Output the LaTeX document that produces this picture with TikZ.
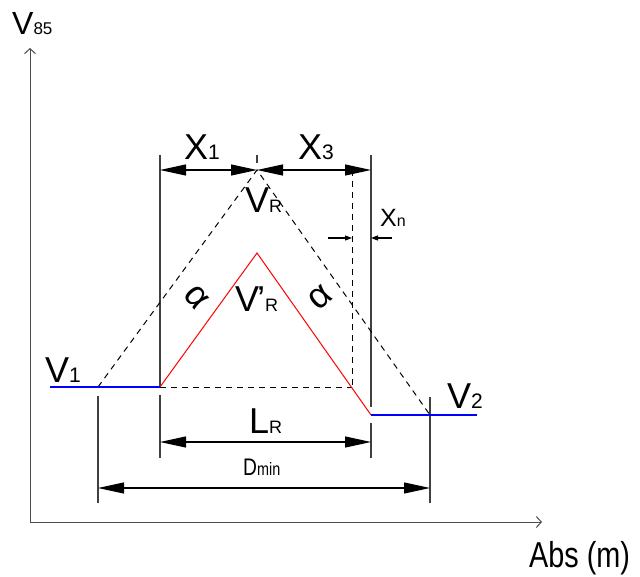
\documentclass[tikz,border=0pt]{standalone}
\usepackage{fontspec}
\setmainfont{Liberation Sans}
\newfontfamily\narrowfont{Liberation Sans}[FakeStretch=0.8]
\usetikzlibrary{arrows.meta}
\newcommand\lowidx[2][21]{{\fontsize{#1}{#1}\selectfont #2}}

\begin{document}
\begin{tikzpicture}[x=1pt, y=-1pt,
    lbl/.style={anchor=base west, inner sep=0pt, font=\fontsize{36}{36}\selectfont},
    axis/.style={draw=black!70, line width=1pt, -{Straight Barb[length=5pt,width=11pt]}},
    ext/.style={draw=black!75, line width=1.1pt},
    dim/.style={{Triangle[length=26pt,width=11pt]}-{Triangle[length=26pt,width=11pt]}, line width=1.1pt},
    small/.style={-{Triangle[length=7pt,width=5pt]}, line width=1.1pt},
    guide/.style={line width=1pt, dash pattern=on 6pt off 5pt},
    ramp/.style={red, line width=1pt},
    flat/.style={blue, line width=1.3pt}
]
\useasboundingbox (0,0) rectangle (640,577);

% key points
\coordinate (O) at (30,522);
\coordinate (Ytop) at (30,48);
\coordinate (Xend) at (542,522);
\coordinate (V1s) at (50,387);
\coordinate (P1) at (98,387);
\coordinate (P2) at (160,387);
\coordinate (Apex) at (257,170);
\coordinate (RApex) at (257,253);
\coordinate (P3) at (352,387);
\coordinate (P4) at (371,415);
\coordinate (P5) at (430,415);
\coordinate (V2e) at (477,415);

% axes
\draw[axis] (O) -- (Ytop);
\draw[axis] (O) -- (Xend);
\node[lbl, font=\fontsize{32}{32}\selectfont] (V85) at (12,35) {V\lowidx[17]{85}};
\node[lbl, font=\fontsize{36}{36}\selectfont\narrowfont] (Abs) at (529,567) {Abs (m)};

% extension lines
\draw[ext] (160,155) -- (P2);
\draw[ext] (160,395) -- (160,458);
\draw[ext] (371,155) -- (371,407);
\draw[ext] (371,423) -- (371,458);
\draw[ext] (98,396) -- (98,503);
\draw[ext] (430,397) -- (430,503);
\draw[ext] (257,155) -- (257,163);

% speed profiles
\draw[guide] (P1) -- (Apex) -- (P5);
\draw[guide] (P2) -- (P3);
\draw[guide] (352,170) -- (P3);
\draw[ramp] (P2) -- (RApex) -- (P4);
\draw[flat] (V1s) -- (P2);
\draw[flat] (P4) -- (V2e);

% dimensions
\draw[dim] (160,170) -- (257,170);
\draw[dim] (257,170) -- (371,170);
\draw[dim] (160,442) -- (371,442);
\draw[dim] (98,488) -- (430,488);
\draw[small] (328,238) -- (352,238);
\draw[small] (392,238) -- (371,238);

% labels
\node[lbl] (X1) at (184,160) {X\lowidx{1}};
\node[lbl] (X3) at (298,160) {X\lowidx{3}};
\node[lbl] (VR) at (245,213) {V\lowidx[18]{R}};
\node[lbl] (VRp) at (235,312) {V\kern-2pt'\lowidx[18]{R}};
\node[lbl, font=\fontsize{25}{25}\selectfont] (Xn) at (380,227) {X\lowidx[16]{n}};
\node[lbl] (V1) at (45,382) {V\lowidx{1}};
\node[lbl] (V2) at (447,408) {V\lowidx{2}};
\node[lbl] (LR) at (249,433) {L\lowidx[18]{R}};
\node[lbl, font=\fontsize{24}{24}\selectfont\narrowfont] (Dmin) at (243,475) {D\lowidx[18]{min}};
\node[font=\fontsize{36}{36}\selectfont, rotate=-50, inner sep=0pt] (aL) at (196,297) {α};
\node[font=\fontsize{36}{36}\selectfont, rotate=40, inner sep=0pt] (aR) at (320,298) {α};
\end{tikzpicture}
\end{document}
